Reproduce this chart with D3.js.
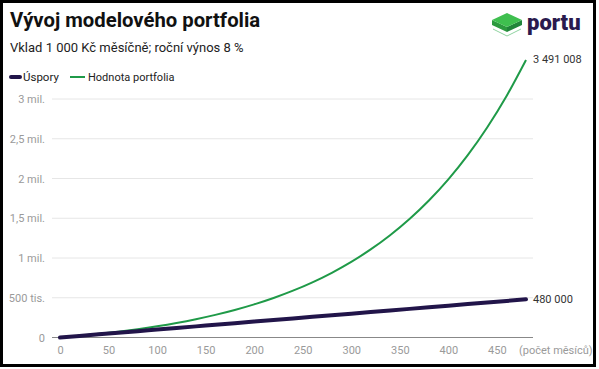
<!DOCTYPE html>
<html><head><meta charset="utf-8">
<script src="https://cdn.jsdelivr.net/npm/d3@7"></script>
<style>body{margin:0;background:#fff}svg{display:block;font-family:Roboto,"Noto Sans",sans-serif}</style>
</head><body><svg id="c" width="599" height="369"></svg>
<script>
const months = [0,20,40,60,80,100,120,140,160,180,200,220,240,260,280,300,320,340,360,380,400,420,440,460,480];
const savings = [0,20000,40000,60000,80000,100000,120000,140000,160000,180000,200000,220000,240000,260000,280000,300000,320000,340000,360000,380000,400000,420000,440000,460000,480000];
const portfolio = [0,21300,45700,73500,105200,141500,182900,230300,284300,346000,416500,497100,589000,694100,814000,951100,1107600,1286300,1490500,1723600,1989900,2294100,2641500,3038200,3491008];
const yTicks = [0,500000,1000000,1500000,2000000,2500000,3000000];
const yTickLabels = ["0","500 tis.","1 mil.","1,5 mil.","2 mil.","2,5 mil.","3 mil."];
const xTicks = [0,50,100,150,200,250,300,350,400,450];
const seriesNames = ["Úspory","Hodnota portfolia"];
const colors = ["#22154a","#1f9a48"];
const endLabels = ["480 000","3 491 008"];

const svg = d3.select("#c");
svg.append("rect").attr("width",599).attr("height",369).attr("fill","#fff");

const x = d3.scaleLinear().domain([0,480]).range([60,526]);
const y = d3.scaleLinear().domain([0,3000000]).range([337.5,99]);

// grid
svg.append("g").selectAll("line").data(yTicks.slice(1)).join("line")
  .attr("x1",52).attr("x2",533).attr("y1",d=>y(d)).attr("y2",d=>y(d))
  .attr("stroke","#e6e6e6").attr("stroke-width",1);
svg.append("line").attr("x1",52).attr("x2",533).attr("y1",y(0)).attr("y2",y(0))
  .attr("stroke","#888").attr("stroke-width",1);

// y labels
svg.append("g").selectAll("text").data(yTicks).join("text")
  .attr("x",45).attr("y",d=>y(d)+4).attr("text-anchor","end")
  .attr("font-size",11).attr("fill","#9a9a9a").text((d,i)=>yTickLabels[i]);

// x labels
const xAxis = d3.axisBottom(x).tickValues(xTicks).tickSize(0).tickPadding(0);
const gx = svg.append("g").attr("transform","translate(0,354)").call(xAxis);
gx.select(".domain").remove();
gx.selectAll("text").attr("dy",0).attr("font-size",11).attr("fill","#9a9a9a").attr("font-family","Roboto");
svg.append("text").attr("x",519).attr("y",354).attr("font-size",11).attr("fill","#9a9a9a").text("(počet měsíců)");

// lines
const line = d3.line().x((d,i)=>x(months[i])).y(d=>y(d)).curve(d3.curveMonotoneX);
svg.append("path").datum(portfolio).attr("d",line).attr("fill","none")
  .attr("stroke",colors[1]).attr("stroke-width",2);
svg.append("path").datum(savings).attr("d",line).attr("fill","none")
  .attr("stroke",colors[0]).attr("stroke-width",4).attr("stroke-linecap","round");

// end labels
svg.append("text").attr("x",533).attr("y",y(480000)+4).attr("font-size",11).attr("fill","#333").text(endLabels[0]);
svg.append("text").attr("x",533).attr("y",63).attr("font-size",11).attr("fill","#333").text(endLabels[1]);

// title
svg.append("text").attr("x",10).attr("y",27).attr("font-size",20.3).attr("font-weight",700).attr("fill","#111").text("Vývoj modelového portfolia");
svg.append("text").attr("x",10).attr("y",52).attr("font-size",13).attr("fill","#222").text("Vklad 1 000 Kč měsíčně; roční výnos 8 %");

// legend
const lg = svg.append("g");
lg.append("line").attr("x1",11).attr("x2",20).attr("y1",77).attr("y2",77).attr("stroke",colors[0]).attr("stroke-width",4).attr("stroke-linecap","round");
lg.append("text").attr("x",23).attr("y",80.5).attr("font-size",11.5).attr("fill","#222").text(seriesNames[0]);
lg.append("line").attr("x1",70).attr("x2",85).attr("y1",77).attr("y2",77).attr("stroke",colors[1]).attr("stroke-width",2);
lg.append("text").attr("x",88).attr("y",80.5).attr("font-size",11).attr("fill","#222").text(seriesNames[1]);

// logo
const logo = svg.append("g");
logo.append("polyline").attr("points","493,29 507,36 521,29").attr("fill","none").attr("stroke","#8fd3a0").attr("stroke-width",1);
logo.append("polygon").attr("points","492,20 507,27 507,32 492,25").attr("fill","#2c9a3e");
logo.append("polygon").attr("points","507,27 522,20 522,25 507,32").attr("fill","#21853a");
logo.append("polygon").attr("points","492,20 507,13 522,20 507,27").attr("fill","#3fbf4f");
logo.append("text").attr("x",527).attr("y",30).attr("font-size",22).attr("font-weight",900).attr("fill","#2a1a4e").text("portu");

// border
svg.append("rect").attr("x",1.5).attr("y",1.5).attr("width",593).attr("height",364)
  .attr("fill","none").attr("stroke","#000").attr("stroke-width",3);
</script></body></html>
